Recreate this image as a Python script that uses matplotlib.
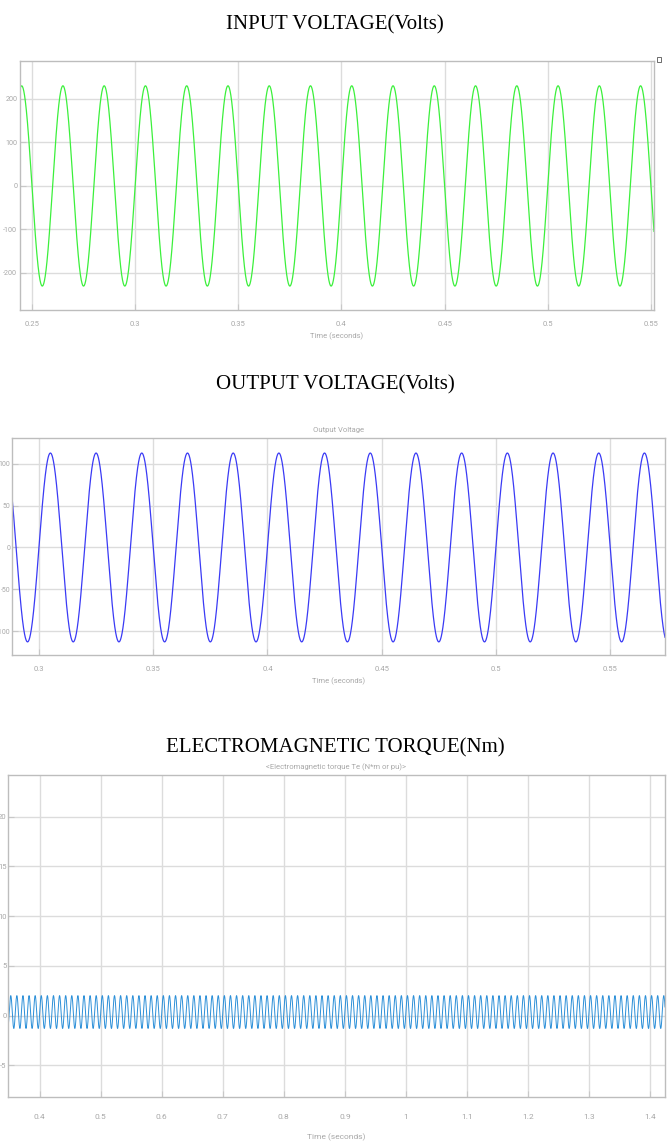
import numpy as np
import matplotlib
matplotlib.use("Agg")
import matplotlib.pyplot as plt

# ---------------- data ----------------
# Input voltage: 50 Hz sinusoid, peak ~230 V
input_t_range = [0.2442, 0.5515]
input_amplitude = 230.0
input_freq_hz = 50.0
input_xticks = [0.25, 0.30, 0.35, 0.40, 0.45, 0.50, 0.55]
input_xticklabels = ["0.25", "0.3", "0.35", "0.4", "0.45", "0.5", "0.55"]
input_yticks = [-200, -100, 0, 100, 200]
input_ylim = [-285, 287]

# Output voltage: 50 Hz sinusoid, peak ~113 V
output_t_range = [0.2882, 0.5740]
output_amplitude = 113.0
output_freq_hz = 50.0
output_xticks = [0.30, 0.35, 0.40, 0.45, 0.50, 0.55]
output_xticklabels = ["0.3", "0.35", "0.4", "0.45", "0.5", "0.55"]
output_yticks = [-100, -50, 0, 50, 100]
output_ylim = [-128.7, 131]

# Electromagnetic torque: 100 Hz ripple between ~-1.3 and ~2.0 Nm
torque_t_range = [0.348, 1.4245]
torque_mean = 0.35
torque_amplitude = 1.65
torque_freq_hz = 100.0
torque_xticks = [0.4, 0.5, 0.6, 0.7, 0.8, 0.9, 1.0, 1.1, 1.2, 1.3, 1.4]
torque_xticklabels = ["0.4", "0.5", "0.6", "0.7", "0.8", "0.9", "1", "1.1", "1.2", "1.3", "1.4"]
torque_yticks = [-5, 0, 5, 10, 15, 20]
torque_ylim = [-8.2, 24.2]

section_titles = ["INPUT VOLTAGE(Volts)", "OUTPUT VOLTAGE(Volts)", "ELECTROMAGNETIC TORQUE(Nm)"]
scope_titles = ["", "Output Voltage", "<Electromagnetic torque Te (N*m or pu)>"]
xlabel_text = "Time (seconds)"

# ---------------- figure ----------------
W, H = 670, 1144
fig = plt.figure(figsize=(W / 100, H / 100), dpi=100)
fig.patch.set_facecolor("white")

small_font = ["Liberation Sans Narrow", "Roboto", "DejaVu Sans"]
grey_txt = "#a8a8a8"
grid_col = "#dcdcdc"
spine_col = "#bdbdbd"


def px_axes(left, top, right, bottom):
    return fig.add_axes([left / W, (H - bottom) / H, (right - left) / W, (bottom - top) / H])


def style(ax, xticks, xlabels, yticks, xlim, ylim, fs=5.5, yfs=5.5, ypad=3):
    ax.set_xlim(*xlim)
    ax.set_ylim(*ylim)
    ax.set_xticks(xticks)
    ax.set_xticklabels(xlabels, fontsize=fs, color=grey_txt, family=small_font)
    ax.set_yticks(yticks)
    ax.set_yticklabels([str(v) for v in yticks], fontsize=yfs, color=grey_txt, family=small_font)
    ax.grid(True, color=grid_col, linewidth=1.0)
    ax.set_axisbelow(True)
    for s in ax.spines.values():
        s.set_color(spine_col)
        s.set_linewidth(1.0)
    ax.tick_params(axis="both", direction="in", length=4, color="#c8c8c8", pad=8)
    ax.tick_params(axis="y", pad=ypad)


# Panel 1 - input voltage
ax1 = px_axes(20, 61, 654, 310)
t1 = np.linspace(*input_t_range, 6000)
ax1.plot(t1, input_amplitude * np.sin(2 * np.pi * input_freq_hz * t1), color="#3cf03c", linewidth=0.9)
style(ax1, input_xticks, input_xticklabels, input_yticks, input_t_range, input_ylim, yfs=5.2, ypad=2)
ax1.set_xlabel(xlabel_text, fontsize=5.5, color=grey_txt, family=small_font, labelpad=4)
fig.text(0.5, 1 - 25 / H, section_titles[0], ha="center", va="center",
         fontsize=15, family=["Liberation Serif", "DejaVu Serif"])
# small scope icon at the top-right corner
fig.patches.append(plt.Rectangle(((657) / W, 1 - 62 / H), 4 / W, 5 / H, transform=fig.transFigure,
                                 fill=False, edgecolor="#555555", linewidth=0.6))

# Panel 2 - output voltage
ax2 = px_axes(12, 438, 665, 655)
t2 = np.linspace(*output_t_range, 6000)
ax2.plot(t2, output_amplitude * np.sin(2 * np.pi * output_freq_hz * t2), color="#3a3af5", linewidth=0.9)
style(ax2, output_xticks, output_xticklabels, output_yticks, output_t_range, output_ylim, yfs=5.0, ypad=1)
ax2.set_xlabel(xlabel_text, fontsize=5.5, color=grey_txt, family=small_font, labelpad=4)
ax2.set_title(scope_titles[1], fontsize=5.5, color=grey_txt, family=small_font, pad=4)
fig.text(0.5, 1 - 385 / H, section_titles[1], ha="center", va="center",
         fontsize=15, family=["Liberation Serif", "DejaVu Serif"])

# Panel 3 - electromagnetic torque
ax3 = px_axes(8, 775, 665, 1097)
t3 = np.linspace(*torque_t_range, 20000)
ax3.plot(t3, torque_mean + torque_amplitude * np.sin(2 * np.pi * torque_freq_hz * t3),
         color="#2b8fd8", linewidth=0.7)
style(ax3, torque_xticks, torque_xticklabels, torque_yticks, torque_t_range, torque_ylim,
      fs=6, yfs=5.5, ypad=1)
ax3.set_xlabel(xlabel_text, fontsize=6, color=grey_txt, family=small_font, labelpad=10)
ax3.set_title(scope_titles[2], fontsize=5.5, color=grey_txt, family=small_font, pad=4)
ax3.tick_params(axis="x", pad=12)
fig.text(0.5, 1 - 748 / H, section_titles[2], ha="center", va="center",
         fontsize=15, family=["Liberation Serif", "DejaVu Serif"])

fig.savefig("out.png", dpi=100, facecolor="white")
